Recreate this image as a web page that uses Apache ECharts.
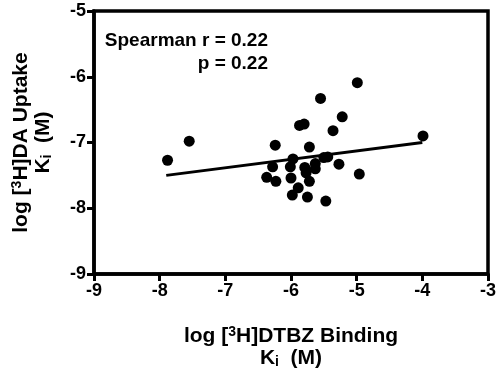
<!DOCTYPE html>
<html>
<head>
    <meta charset="UTF-8">
    <title>DTBZ vs DA uptake</title>
    <script type="text/javascript" src="https://cdn.jsdelivr.net/npm/echarts@6/dist/echarts.min.js"></script>
    <style>
        html, body { margin: 0; padding: 0; background: #fff; }
        #chart { width: 500px; height: 374px; }
    </style>
</head>
<body>
<div id="chart"></div>
<script type="text/javascript">
    // log Ki values: [DTBZ binding, DA uptake]
    var bindingKi = [-7.88, -7.55, -6.24, -6.28, -6.37, -6.23, -5.97, -6.01, -6.00, -5.89,
                     -5.98, -5.75, -5.87, -5.80, -5.72, -5.79, -5.77, -5.72, -5.63, -5.63,
                     -5.50, -5.44, -5.55, -5.22, -5.36, -5.27, -4.96, -4.99, -5.47, -3.99];
    var uptakeKi = [-7.27, -6.98, -7.04, -7.37, -7.53, -7.59, -7.25, -7.37, -7.54, -7.69,
                    -7.80, -7.83, -6.74, -6.72, -7.07, -7.38, -7.46, -7.59, -7.32, -7.40,
                    -7.23, -7.22, -6.33, -6.61, -6.82, -7.33, -7.48, -6.09, -7.89, -6.90];
    // fitted line end points
    var fitX = [-7.9, -4.0];
    var fitY = [-7.5, -7.0];
    var statsText = ['Spearman r = 0.22', 'p = 0.22'];

    var font = '"Liberation Sans", Arial, sans-serif';
    var points = bindingKi.map(function (x, i) { return [x, uptakeKi[i]]; });
    var fit = fitX.map(function (x, i) { return [x, fitY[i]]; });

    var titleRich = {
        a: { fontSize: 21, fontWeight: 'bold', fontFamily: font, color: '#000', lineHeight: 22 },
        sup: { fontSize: 14, fontWeight: 'bold', fontFamily: font, color: '#000', lineHeight: 10, verticalAlign: 'top' },
        sub: { fontSize: 14, fontWeight: 'bold', fontFamily: font, color: '#000', lineHeight: 10, verticalAlign: 'bottom' }
    };

    var axisCommon = {
        type: 'value',
        interval: 1,
        splitLine: { show: false },
        axisLine: { show: true, onZero: false, lineStyle: { color: '#000', width: 3.5 } },
        axisTick: { show: true, length: 7, lineStyle: { color: '#000', width: 3 } },
        axisLabel: { color: '#000', fontSize: 18, fontWeight: 'bold', fontFamily: font, margin: 8 },
        nameLocation: 'middle',
        nameTextStyle: { rich: titleRich }
    };

    var myChart = echarts.init(document.getElementById('chart'), null, { renderer: 'canvas' });
    myChart.setOption({
        animation: false,
        grid: {
            left: 94, right: 12, top: 11, bottom: 99,
            show: true, borderColor: '#000', borderWidth: 3.5, backgroundColor: 'transparent'
        },
        xAxis: Object.assign({}, axisCommon, {
            min: -9, max: -3,
            nameGap: 51,
            name: '{a|log [}{sup|3}{a|H]DTBZ Binding}\n{a|K}{sub|i}{a|  (M)}'
        }),
        yAxis: Object.assign({}, axisCommon, {
            min: -9, max: -5,
            nameGap: 40,
            name: '{a|log [}{sup|3}{a|H]DA Uptake}\n{a|K}{sub|i}{a|  (M)}'
        }),
        graphic: [{
            type: 'text',
            x: 268, y: 29,
            style: {
                text: statsText.join('\n'),
                align: 'right',
                fill: '#000',
                font: 'bold 19px ' + font,
                lineHeight: 23
            }
        }],
        series: [
            {
                type: 'scatter',
                data: points,
                symbol: 'circle',
                symbolSize: 11,
                itemStyle: { color: '#000', opacity: 1 }
            },
            {
                type: 'line',
                data: fit,
                showSymbol: false,
                lineStyle: { color: '#000', width: 3 }
            }
        ]
    });
</script>
</body>
</html>
